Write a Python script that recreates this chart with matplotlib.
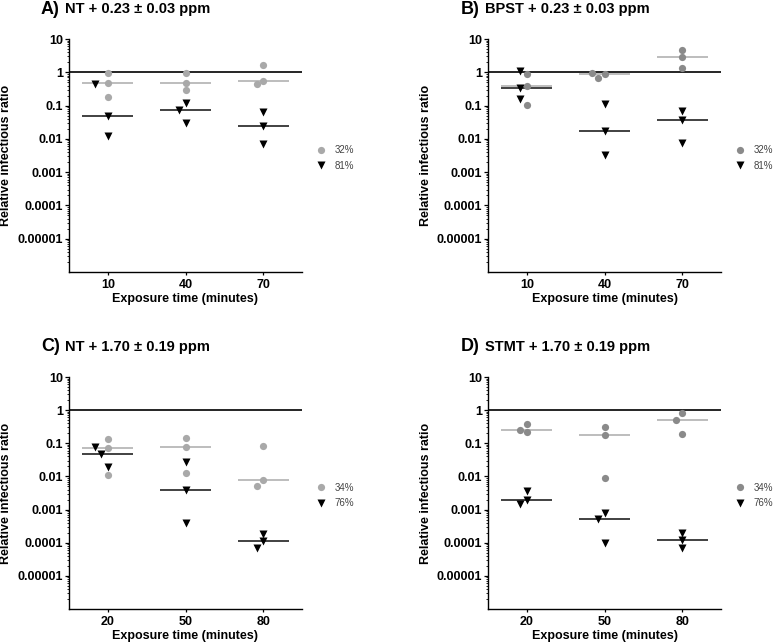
import numpy as np
import matplotlib
matplotlib.use("Agg")
import matplotlib.pyplot as plt
from matplotlib.ticker import LogLocator, NullFormatter, FixedLocator
from matplotlib.lines import Line2D

plt.rcParams['font.family'] = ['Liberation Sans', 'DejaVu Sans']

# exposure times
times_top = ['10', '40', '70']
times_bottom = ['20', '50', '80']

# relative infectious ratio, 3 replicates per time point
a_low = [[0.93, 0.47, 0.18], [0.98, 0.47, 0.29], [1.6, 0.56, 0.43]]
a_high = [[0.45, 0.049, 0.012], [0.12, 0.076, 0.03], [0.062, 0.025, 0.007]]
b_low = [[0.87, 0.40, 0.107], [0.91, 0.68, 0.93], [4.6, 2.8, 1.35]]
b_high = [[1.12, 0.34, 0.155], [0.11, 0.017, 0.0033], [0.068, 0.036, 0.0076]]
c_low = [[0.138, 0.074, 0.0107], [0.145, 0.076, 0.013], [0.085, 0.008, 0.0052]]
c_high = [[0.079, 0.048, 0.019], [0.027, 0.0038, 0.0004], [0.000178, 0.00011, 0.000069]]
d_low = [[0.37, 0.22, 0.26], [0.31, 0.18, 0.0091], [0.81, 0.52, 0.19]]
d_high = [[0.0036, 0.0019, 0.0015], [0.00078, 0.00051, 0.0001], [0.0002, 0.000123, 0.000069]]

rh_top = ['32%', '81%']
rh_bottom = ['34%', '76%']
titles = [('A)', 'NT + 0.23 \u00b1 0.03 ppm'), ('B)', 'BPST + 0.23 \u00b1 0.03 ppm'),
          ('C)', 'NT + 1.70 \u00b1 0.19 ppm'), ('D)', 'STMT + 1.70 \u00b1 0.19 ppm')]
ytick_vals = [10, 1, 0.1, 0.01, 0.001, 0.0001, 0.00001]
ytick_labels = ['10', '1', '0.1', '0.01', '0.001', '0.0001', '0.00001']

W, H = 773, 643
fig = plt.figure(figsize=(W / 100, H / 100), dpi=100)


def swarm_offsets(ax, xc, series, diam):
    # spread overlapping points sideways, in pixel space
    placed = []
    out = []
    x0 = ax.transData.transform((xc, 1))[0]
    for vals in series:
        xs = []
        for v in vals:
            yp = ax.transData.transform((xc, v))[1]
            for k in [0, -1, 1, -2, 2, -3, 3]:
                xp = x0 + k * diam
                if all(np.hypot(xp - px, yp - py) >= diam * 1.05 for px, py in placed):
                    break
            placed.append((xp, yp))
            xs.append(ax.transData.inverted().transform((xp, yp))[0])
        out.append(xs)
    return out


def panel(rect, low, high, times, labels, light, ylab_x, pos):
    ax = fig.add_axes(rect)
    ax.set_yscale('log')
    ax.set_ylim(1e-6, 10)
    ax.set_xlim(-0.5, 2.5)
    ax.axhline(1, color='black', lw=1.2, zorder=1)
    circ_col = '#a9a9a9' if light else '#8a8a8a'
    for i in range(len(times)):
        offs = swarm_offsets(ax, i, [low[i], high[i]], 6.5)
        ax.plot(offs[0], low[i], 'o', color=circ_col, ms=5.2, mec='none', zorder=3)
        ax.plot(offs[1], high[i], 'v', color='black', ms=5.8, mec='none', zorder=3)
        ax.hlines(np.median(low[i]), i - 0.33, i + 0.33, color='#b8b8b8', lw=1.3, zorder=2)
        ax.hlines(np.median(high[i]), i - 0.33, i + 0.33, color='#333333', lw=1.3, zorder=2)
    ax.set_xticks(range(len(times)))
    ax.set_xticklabels(times, fontsize=9, fontweight='bold')
    ax.yaxis.set_major_locator(FixedLocator(ytick_vals))
    ax.set_yticklabels(ytick_labels, fontsize=9, fontweight='bold')
    ax.yaxis.set_minor_locator(LogLocator(base=10, subs=np.arange(2, 10), numticks=20))
    ax.yaxis.set_minor_formatter(NullFormatter())
    ax.tick_params(axis='y', which='major', length=3, width=0.9, pad=1)
    ax.tick_params(axis='y', which='minor', length=1.8, width=0.6)
    ax.tick_params(axis='x', length=2, width=0.9, pad=3)
    for s in ['top', 'right']:
        ax.spines[s].set_visible(False)
    for s in ['left', 'bottom']:
        ax.spines[s].set_linewidth(1.0)
    ax.set_xlabel('Exposure time (minutes)', fontsize=9, fontweight='bold')
    ax.xaxis.set_label_coords(0.5, -0.09)
    ax.set_ylabel('Relative infectious ratio', fontsize=9, fontweight='bold')
    ax.yaxis.set_label_coords(ylab_x, 0.5)
    handles = [Line2D([], [], ls='none', marker='o', color=circ_col, ms=5.2, mec='none'),
               Line2D([], [], ls='none', marker='v', color='black', ms=5.8, mec='none')]
    leg = ax.legend(handles, labels, loc='center left', bbox_to_anchor=(1.06, 0.49),
                    frameon=False, fontsize=7, handletextpad=0.9, labelspacing=0.55,
                    handlelength=1.0, borderpad=0, borderaxespad=0)
    for t in leg.get_texts():
        t.set_color('#444444')
    tag, rest = titles[pos]
    tx = 41 if pos % 2 == 0 else 461
    ty = 13.5 if pos < 2 else 351
    fig.text(tx / W, 1 - ty / H, tag, fontsize=13, fontweight='bold', va='baseline')
    fig.text((tx + 24) / W, 1 - ty / H, rest, fontsize=10.5, fontweight='bold', va='baseline')
    return ax


aw, ah = 233 / W, 233 / H
panel([69 / W, 1 - 272 / H, aw, ah], a_low, a_high, times_top, rh_top, True, -0.245, 0)
panel([488 / W, 1 - 272 / H, aw, ah], b_low, b_high, times_top, rh_top, False, -0.24, 1)
panel([69 / W, 1 - 609 / H, aw, 232 / H], c_low, c_high, times_bottom, rh_bottom, True, -0.245, 2)
panel([488 / W, 1 - 609 / H, aw, 232 / H], d_low, d_high, times_bottom, rh_bottom, False, -0.24, 3)

fig.savefig('out.png', dpi=100)
